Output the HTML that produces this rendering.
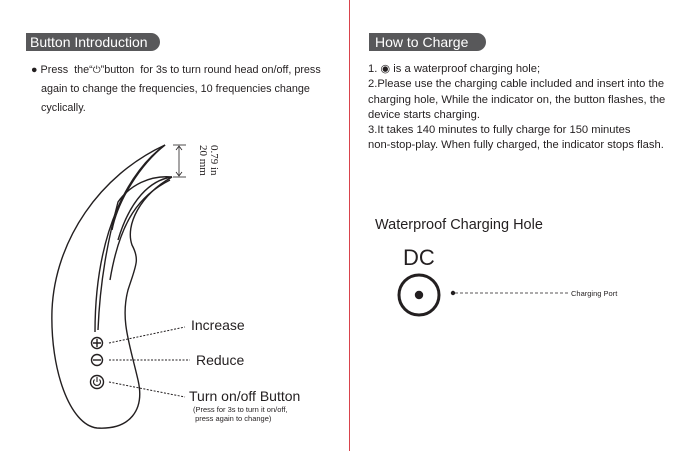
<!DOCTYPE html>
<html><head><style>
body{margin:0;width:700px;height:451px;background:#fff;position:relative;overflow:hidden;font-family:"Liberation Sans",sans-serif;color:#231f20}
.pill{position:absolute;background:#58585a;color:#fff;font-size:14px;line-height:18px;padding-left:4px;border-radius:0 9px 9px 0;height:18px}
.t{position:absolute;font-size:11px}
</style></head><body>
<div style="position:absolute;left:349px;top:0;width:1px;height:451px;background:#d9434c"></div>
<div class="pill" style="left:26px;top:33px;width:130px">Button Introduction</div>
<div class="pill" style="left:369px;top:33px;width:111px;padding-left:6px">How to Charge</div>
<div class="t" style="left:31px;top:61px;line-height:19px;font-size:10.8px">
<div>● Press&nbsp; the“<span style="font-size:10px">⏻</span>”button&nbsp; for 3s to turn round head on/off, press</div>
<div style="padding-left:10px">again to change the frequencies, 10 frequencies change</div>
<div style="padding-left:10px">cyclically.</div></div>
<div class="t" style="left:368px;top:62px;line-height:15.3px;font-size:11.2px">
1. ◉ is a waterproof charging hole;<br>2.Please use the charging cable included and insert into the<br>charging hole, While the indicator on, the button flashes, the<br>device starts charging.<br>3.It takes 140 minutes to fully charge for 150 minutes<br>non-stop-play. When fully charged, the indicator stops flash.</div>
<div class="t" style="left:375px;top:217px;font-size:14.5px">Waterproof Charging Hole</div>
<div class="t" style="left:403px;top:245px;font-size:22px">DC</div>
<div class="t" style="left:571px;top:289px;font-size:7.5px">Charging Port</div>
<svg style="position:absolute;left:0;top:0" width="700" height="451">
<g fill="none" stroke="#231f20" stroke-width="1.4">
<circle cx="419" cy="295" r="20" stroke-width="3"/>
<circle cx="419" cy="295" r="3.5" fill="#231f20"/>
<circle cx="453" cy="293" r="1.5" fill="#231f20"/>
<line x1="455" y1="293" x2="568" y2="293" stroke-width="0.7" stroke-dasharray="3,2"/>
<path d="M165 145 C100 175 55 240 52 310 C50 370 70 425 97 428 C130 430 145 410 138 380 C130 345 120 320 128 290 C136 265 140 260 132 245 C125 225 140 195 172 177"/>
<path d="M165 145 C130 170 95 230 95 332"/>
<path d="M165 145 C140 165 118 200 112 230"/>
<path d="M172 177 C150 175 130 185 118 202 C108 240 100 280 98 330"/>
<path d="M172 177 C150 180 130 200 118 240"/>
<path d="M170 180 C140 195 120 220 110 280"/>
<line x1="173" y1="145" x2="186" y2="145" stroke-width="0.8"/>
<line x1="173" y1="177" x2="186" y2="177" stroke-width="0.8"/>
<line x1="179" y1="147" x2="179" y2="175" stroke-width="0.8"/>
<path d="M176 150 L179 146 L182 150 M176 172 L179 176 L182 172" stroke-width="0.8"/>
<circle cx="97" cy="343" r="5.5"/><path d="M93 343h8M97 339v8"/>
<circle cx="97" cy="360" r="5.5"/><path d="M93 360h8"/>
<circle cx="97" cy="382" r="6.5"/><path d="M94.5 379.5 A3.5 3.5 0 1 0 99.5 379.5 M97 377v5" stroke-width="1.1"/>
<g stroke-width="1" stroke-dasharray="2,1.5">
<line x1="109" y1="343" x2="185" y2="327"/>
<line x1="109" y1="360" x2="190" y2="360"/>
<line x1="109" y1="382" x2="185" y2="397"/>
</g></g>
</svg>
<div style="position:absolute;left:195px;top:145px;width:30px;font-family:'Liberation Serif';font-size:11px;line-height:11px;transform-origin:0 0;transform:translate(24px,0) rotate(90deg);white-space:nowrap">0.79 in<br>20 mm</div>
<div class="t" style="left:191px;top:317px;font-size:14px">Increase</div>
<div class="t" style="left:196px;top:352px;font-size:14px">Reduce</div>
<div class="t" style="left:189px;top:388px;font-size:14px">Turn on/off Button</div>
<div class="t" style="left:193px;top:405px;font-size:7.5px;line-height:9px">(Press for 3s to turn it on/off,<br>&nbsp;press again to change)</div>
</body></html>
